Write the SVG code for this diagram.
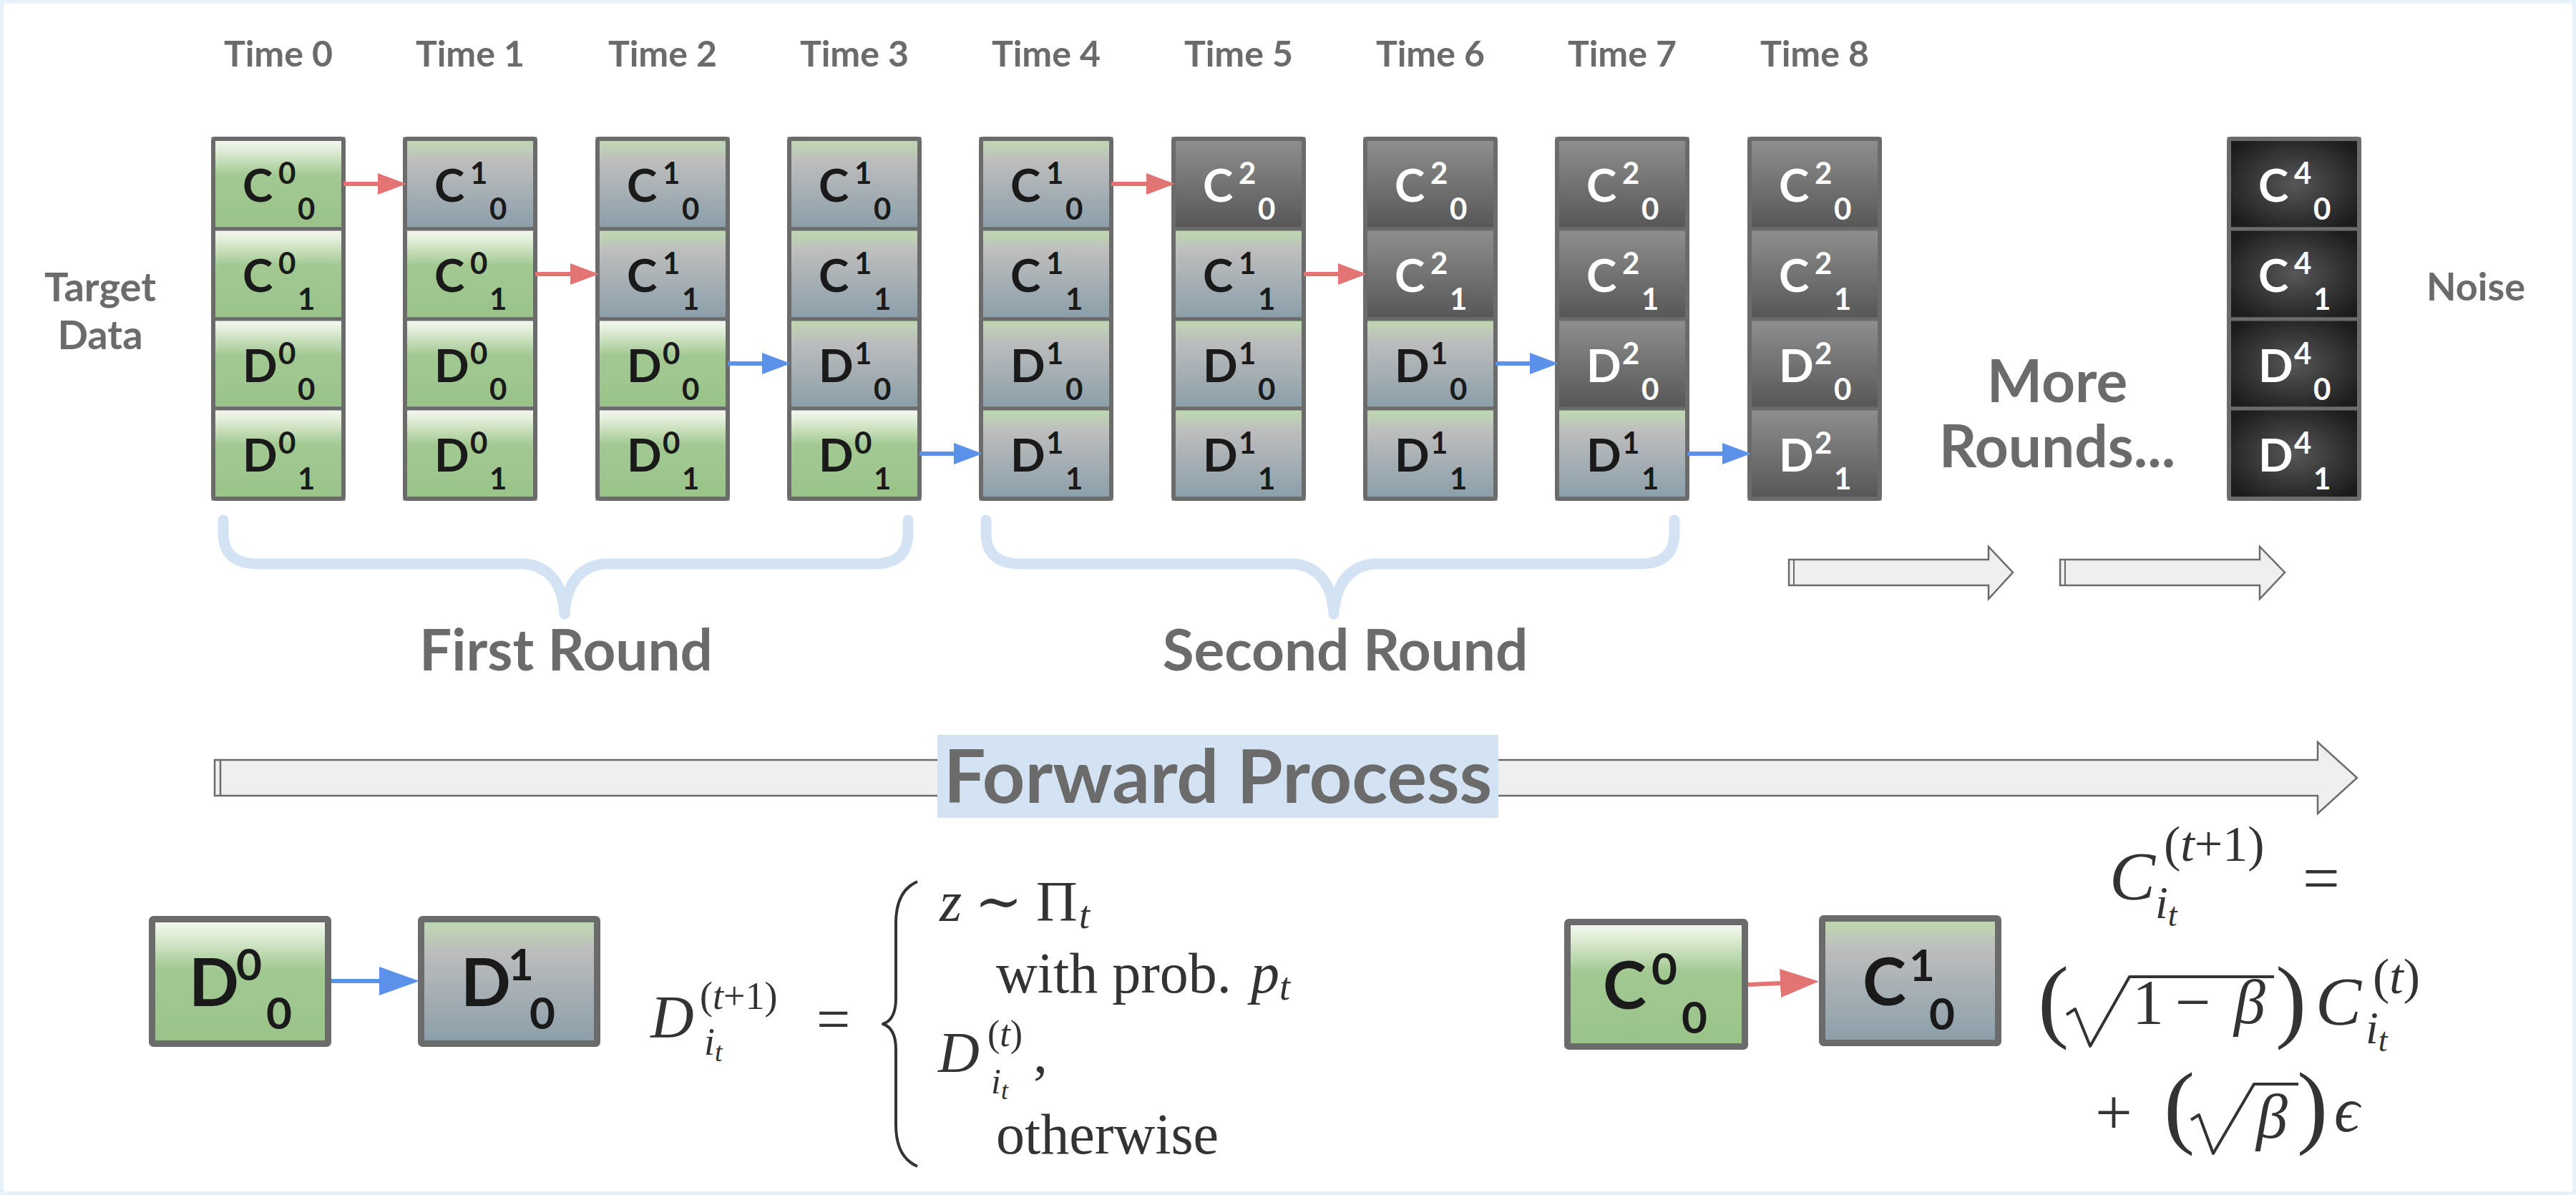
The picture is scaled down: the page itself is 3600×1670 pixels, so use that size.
<svg xmlns="http://www.w3.org/2000/svg" width="3600" height="1670" viewBox="0 0 3600 1670">
<style>
.lab{font-family:Lato,"Liberation Sans",sans-serif;font-weight:700;fill:#6b6b6b;text-anchor:middle}
.t{font-family:Lato,"Liberation Sans",sans-serif;font-weight:700;font-size:64px;fill:#1a1a1a}
.s{font-size:42px}
.big{font-size:92px}
.bs{font-size:62px}
.w{fill:#ffffff}
.cell{stroke:#6b6b6b;stroke-width:5}
.fr{fill:none;stroke:#6b6b6b;stroke-width:6}
.bx{stroke:#6b6b6b;stroke-width:9}
.g{fill:url(#gg)}.b{fill:url(#gb)}.k{fill:url(#gk)}.n{fill:url(#gn)}
.m{font-family:"Liberation Serif","DejaVu Serif",serif;fill:#333}
.i{font-style:italic}
.brace{fill:none;stroke:#d3e3f3;stroke-width:15;stroke-linecap:round;stroke-linejoin:round}
.blk{fill:#efefef;stroke:#6b6b6b;stroke-width:2.5}
.red{stroke:#e37474;stroke-width:6;fill:none}
.blue{stroke:#5b91e8;stroke-width:6;fill:none}
.mline{fill:none;stroke:#333;stroke-width:4;stroke-linejoin:round}
</style>
<defs>
<linearGradient id="gg" x1="0" y1="0" x2="0" y2="1">
<stop offset="0" stop-color="#f7f9f4"/><stop offset="0.12" stop-color="#e2eed9"/><stop offset="0.4" stop-color="#a3c993"/><stop offset="1" stop-color="#99c389"/>
</linearGradient>
<linearGradient id="gb" x1="0" y1="0" x2="0" y2="1">
<stop offset="0" stop-color="#bdd7b2"/><stop offset="0.08" stop-color="#bed2b4"/><stop offset="0.25" stop-color="#bdbdbd"/><stop offset="1" stop-color="#8a9ea9"/>
</linearGradient>
<linearGradient id="gk" x1="0" y1="0" x2="0" y2="1">
<stop offset="0" stop-color="#8f8f8f"/><stop offset="1" stop-color="#565656"/>
</linearGradient>
<radialGradient id="gn" cx="0.5" cy="0.5" r="0.6">
<stop offset="0" stop-color="#575757"/><stop offset="1" stop-color="#1c1c1c"/>
</radialGradient>
<marker id="ar" markerUnits="userSpaceOnUse" markerWidth="40" markerHeight="30" refX="0" refY="15" orient="auto"><path d="M0,0 L40,15 L0,30 z" fill="#e37474"/></marker>
<marker id="ab" markerUnits="userSpaceOnUse" markerWidth="40" markerHeight="30" refX="0" refY="15" orient="auto"><path d="M0,0 L40,15 L0,30 z" fill="#5b91e8"/></marker>
<marker id="arL" markerUnits="userSpaceOnUse" markerWidth="54" markerHeight="40" refX="0" refY="20" orient="auto"><path d="M0,0 L54,20 L0,40 z" fill="#e37474"/></marker>
<marker id="abL" markerUnits="userSpaceOnUse" markerWidth="56" markerHeight="40" refX="0" refY="20" orient="auto"><path d="M0,0 L56,20 L0,40 z" fill="#5b91e8"/></marker>
</defs>

<rect x="2.5" y="2.5" width="3595" height="1665" fill="#ffffff" stroke="#e6f2fa" stroke-width="5"/>

<g id="labels">
<text class="lab" font-size="50" x="389" y="93">Time 0</text>
<text class="lab" font-size="50" x="657" y="93">Time 1</text>
<text class="lab" font-size="50" x="926" y="93">Time 2</text>
<text class="lab" font-size="50" x="1194" y="93">Time 3</text>
<text class="lab" font-size="50" x="1462" y="93">Time 4</text>
<text class="lab" font-size="50" x="1731" y="93">Time 5</text>
<text class="lab" font-size="50" x="1999" y="93">Time 6</text>
<text class="lab" font-size="50" x="2267" y="93">Time 7</text>
<text class="lab" font-size="50" x="2536" y="93">Time 8</text>
<text class="lab" font-size="56" x="140" y="421">Target</text>
<text class="lab" font-size="56" x="140" y="488">Data</text>
<text class="lab" font-size="54" x="3460" y="420">Noise</text>
<text class="lab" font-size="82" x="2875" y="562">More</text>
<text class="lab" font-size="82" x="2875" y="653">Rounds...</text>
<text class="lab" font-size="80" x="791" y="937">First Round</text>
<text class="lab" font-size="80" x="1880" y="937">Second Round</text>
</g>

<g id="braces">
<path class="brace" d="M312,727 L312,745 Q312,788 360,788 L735,788 Q785,795 789,858 Q793,795 843,788 L1222,788 Q1269,788 1269,745 L1269,727"/>
<path class="brace" d="M1378,727 L1378,745 Q1378,788 1426,788 L1810,788 Q1860,795 1864,858 Q1868,795 1918,788 L2292,788 Q2340,788 2340,745 L2340,727"/>
</g>

<g id="block-arrows">
<path class="blk" d="M2500,782 L2779,782 L2779,764 L2813,800 L2779,837 L2779,818 L2500,818 Z"/>
<line x1="2507" y1="782" x2="2507" y2="818" stroke="#6b6b6b" stroke-width="2"/>
<path class="blk" d="M2879,782 L3158,782 L3158,764 L3193,800 L3158,837 L3158,818 L2879,818 Z"/>
<line x1="2886" y1="782" x2="2886" y2="818" stroke="#6b6b6b" stroke-width="2"/>
<path class="blk" stroke-width="3" d="M300,1062 L3239,1062 L3239,1037 L3294,1087 L3239,1137 L3239,1112 L300,1112 Z"/>
<line x1="308" y1="1062" x2="308" y2="1112" stroke="#6b6b6b" stroke-width="2.5"/>
<rect x="1310" y="1027" width="784" height="116" fill="#d3e3f3"/>
<text class="lab" font-size="104" x="1702" y="1122">Forward Process</text>
</g>

<g id="col0">
<rect class="cell g" x="298" y="194" width="182" height="126"/>
<rect class="cell g" x="298" y="320" width="182" height="126"/>
<rect class="cell g" x="298" y="446" width="182" height="125"/>
<rect class="cell g" x="298" y="571" width="182" height="126"/>
<rect class="fr" x="298" y="194" width="182" height="503" rx="3"/>
<text class="t" x="339" y="282">C<tspan class="s" x="389" y="257">0</tspan><tspan class="s" x="416" y="307">0</tspan></text>
<text class="t" x="339" y="408">C<tspan class="s" x="389" y="383">0</tspan><tspan class="s" x="416" y="433">1</tspan></text>
<text class="t" x="339" y="534">D<tspan class="s" x="389" y="509">0</tspan><tspan class="s" x="416" y="559">0</tspan></text>
<text class="t" x="339" y="659">D<tspan class="s" x="389" y="634">0</tspan><tspan class="s" x="416" y="684">1</tspan></text>
</g>

<g id="col1">
<rect class="cell b" x="566" y="194" width="182" height="126"/>
<rect class="cell g" x="566" y="320" width="182" height="126"/>
<rect class="cell g" x="566" y="446" width="182" height="125"/>
<rect class="cell g" x="566" y="571" width="182" height="126"/>
<rect class="fr" x="566" y="194" width="182" height="503" rx="3"/>
<text class="t" x="607" y="282">C<tspan class="s" x="657" y="257">1</tspan><tspan class="s" x="684" y="307">0</tspan></text>
<text class="t" x="607" y="408">C<tspan class="s" x="657" y="383">0</tspan><tspan class="s" x="684" y="433">1</tspan></text>
<text class="t" x="607" y="534">D<tspan class="s" x="657" y="509">0</tspan><tspan class="s" x="684" y="559">0</tspan></text>
<text class="t" x="607" y="659">D<tspan class="s" x="657" y="634">0</tspan><tspan class="s" x="684" y="684">1</tspan></text>
</g>

<g id="col2">
<rect class="cell b" x="835" y="194" width="182" height="126"/>
<rect class="cell b" x="835" y="320" width="182" height="126"/>
<rect class="cell g" x="835" y="446" width="182" height="125"/>
<rect class="cell g" x="835" y="571" width="182" height="126"/>
<rect class="fr" x="835" y="194" width="182" height="503" rx="3"/>
<text class="t" x="876" y="282">C<tspan class="s" x="926" y="257">1</tspan><tspan class="s" x="953" y="307">0</tspan></text>
<text class="t" x="876" y="408">C<tspan class="s" x="926" y="383">1</tspan><tspan class="s" x="953" y="433">1</tspan></text>
<text class="t" x="876" y="534">D<tspan class="s" x="926" y="509">0</tspan><tspan class="s" x="953" y="559">0</tspan></text>
<text class="t" x="876" y="659">D<tspan class="s" x="926" y="634">0</tspan><tspan class="s" x="953" y="684">1</tspan></text>
</g>

<g id="col3">
<rect class="cell b" x="1103" y="194" width="182" height="126"/>
<rect class="cell b" x="1103" y="320" width="182" height="126"/>
<rect class="cell b" x="1103" y="446" width="182" height="125"/>
<rect class="cell g" x="1103" y="571" width="182" height="126"/>
<rect class="fr" x="1103" y="194" width="182" height="503" rx="3"/>
<text class="t" x="1144" y="282">C<tspan class="s" x="1194" y="257">1</tspan><tspan class="s" x="1221" y="307">0</tspan></text>
<text class="t" x="1144" y="408">C<tspan class="s" x="1194" y="383">1</tspan><tspan class="s" x="1221" y="433">1</tspan></text>
<text class="t" x="1144" y="534">D<tspan class="s" x="1194" y="509">1</tspan><tspan class="s" x="1221" y="559">0</tspan></text>
<text class="t" x="1144" y="659">D<tspan class="s" x="1194" y="634">0</tspan><tspan class="s" x="1221" y="684">1</tspan></text>
</g>

<g id="col4">
<rect class="cell b" x="1371" y="194" width="182" height="126"/>
<rect class="cell b" x="1371" y="320" width="182" height="126"/>
<rect class="cell b" x="1371" y="446" width="182" height="125"/>
<rect class="cell b" x="1371" y="571" width="182" height="126"/>
<rect class="fr" x="1371" y="194" width="182" height="503" rx="3"/>
<text class="t" x="1412" y="282">C<tspan class="s" x="1462" y="257">1</tspan><tspan class="s" x="1489" y="307">0</tspan></text>
<text class="t" x="1412" y="408">C<tspan class="s" x="1462" y="383">1</tspan><tspan class="s" x="1489" y="433">1</tspan></text>
<text class="t" x="1412" y="534">D<tspan class="s" x="1462" y="509">1</tspan><tspan class="s" x="1489" y="559">0</tspan></text>
<text class="t" x="1412" y="659">D<tspan class="s" x="1462" y="634">1</tspan><tspan class="s" x="1489" y="684">1</tspan></text>
</g>

<g id="col5">
<rect class="cell k" x="1640" y="194" width="182" height="126"/>
<rect class="cell b" x="1640" y="320" width="182" height="126"/>
<rect class="cell b" x="1640" y="446" width="182" height="125"/>
<rect class="cell b" x="1640" y="571" width="182" height="126"/>
<rect class="fr" x="1640" y="194" width="182" height="503" rx="3"/>
<text class="t w" x="1681" y="282">C<tspan class="s" x="1731" y="257">2</tspan><tspan class="s" x="1758" y="307">0</tspan></text>
<text class="t" x="1681" y="408">C<tspan class="s" x="1731" y="383">1</tspan><tspan class="s" x="1758" y="433">1</tspan></text>
<text class="t" x="1681" y="534">D<tspan class="s" x="1731" y="509">1</tspan><tspan class="s" x="1758" y="559">0</tspan></text>
<text class="t" x="1681" y="659">D<tspan class="s" x="1731" y="634">1</tspan><tspan class="s" x="1758" y="684">1</tspan></text>
</g>

<g id="col6">
<rect class="cell k" x="1908" y="194" width="182" height="126"/>
<rect class="cell k" x="1908" y="320" width="182" height="126"/>
<rect class="cell b" x="1908" y="446" width="182" height="125"/>
<rect class="cell b" x="1908" y="571" width="182" height="126"/>
<rect class="fr" x="1908" y="194" width="182" height="503" rx="3"/>
<text class="t w" x="1949" y="282">C<tspan class="s" x="1999" y="257">2</tspan><tspan class="s" x="2026" y="307">0</tspan></text>
<text class="t w" x="1949" y="408">C<tspan class="s" x="1999" y="383">2</tspan><tspan class="s" x="2026" y="433">1</tspan></text>
<text class="t" x="1949" y="534">D<tspan class="s" x="1999" y="509">1</tspan><tspan class="s" x="2026" y="559">0</tspan></text>
<text class="t" x="1949" y="659">D<tspan class="s" x="1999" y="634">1</tspan><tspan class="s" x="2026" y="684">1</tspan></text>
</g>

<g id="col7">
<rect class="cell k" x="2176" y="194" width="182" height="126"/>
<rect class="cell k" x="2176" y="320" width="182" height="126"/>
<rect class="cell k" x="2176" y="446" width="182" height="125"/>
<rect class="cell b" x="2176" y="571" width="182" height="126"/>
<rect class="fr" x="2176" y="194" width="182" height="503" rx="3"/>
<text class="t w" x="2217" y="282">C<tspan class="s" x="2267" y="257">2</tspan><tspan class="s" x="2294" y="307">0</tspan></text>
<text class="t w" x="2217" y="408">C<tspan class="s" x="2267" y="383">2</tspan><tspan class="s" x="2294" y="433">1</tspan></text>
<text class="t w" x="2217" y="534">D<tspan class="s" x="2267" y="509">2</tspan><tspan class="s" x="2294" y="559">0</tspan></text>
<text class="t" x="2217" y="659">D<tspan class="s" x="2267" y="634">1</tspan><tspan class="s" x="2294" y="684">1</tspan></text>
</g>

<g id="col8">
<rect class="cell k" x="2445" y="194" width="182" height="126"/>
<rect class="cell k" x="2445" y="320" width="182" height="126"/>
<rect class="cell k" x="2445" y="446" width="182" height="125"/>
<rect class="cell k" x="2445" y="571" width="182" height="126"/>
<rect class="fr" x="2445" y="194" width="182" height="503" rx="3"/>
<text class="t w" x="2486" y="282">C<tspan class="s" x="2536" y="257">2</tspan><tspan class="s" x="2563" y="307">0</tspan></text>
<text class="t w" x="2486" y="408">C<tspan class="s" x="2536" y="383">2</tspan><tspan class="s" x="2563" y="433">1</tspan></text>
<text class="t w" x="2486" y="534">D<tspan class="s" x="2536" y="509">2</tspan><tspan class="s" x="2563" y="559">0</tspan></text>
<text class="t w" x="2486" y="659">D<tspan class="s" x="2536" y="634">2</tspan><tspan class="s" x="2563" y="684">1</tspan></text>
</g>

<g id="noise">
<rect class="cell n" x="3115" y="194" width="182" height="126"/>
<rect class="cell n" x="3115" y="320" width="182" height="126"/>
<rect class="cell n" x="3115" y="446" width="182" height="125"/>
<rect class="cell n" x="3115" y="571" width="182" height="126"/>
<rect class="fr" x="3115" y="194" width="182" height="503" rx="3"/>
<text class="t w" x="3156" y="282">C<tspan class="s" x="3206" y="257">4</tspan><tspan class="s" x="3233" y="307">0</tspan></text>
<text class="t w" x="3156" y="408">C<tspan class="s" x="3206" y="383">4</tspan><tspan class="s" x="3233" y="433">1</tspan></text>
<text class="t w" x="3156" y="534">D<tspan class="s" x="3206" y="509">4</tspan><tspan class="s" x="3233" y="559">0</tspan></text>
<text class="t w" x="3156" y="659">D<tspan class="s" x="3206" y="634">4</tspan><tspan class="s" x="3233" y="684">1</tspan></text>
</g>

<g id="exD0">
<rect class="bx g" x="212.5" y="1284.5" width="246" height="174" rx="2"/>
<text class="t big" x="264" y="1406">D<tspan class="bs" x="330" y="1370">0</tspan><tspan class="bs" x="372" y="1438">0</tspan></text>
</g>
<g id="exD1">
<rect class="bx b" x="588.5" y="1284.5" width="246" height="174" rx="2"/>
<text class="t big" x="644" y="1406">D<tspan class="bs" x="710" y="1370">1</tspan><tspan class="bs" x="740" y="1438">0</tspan></text>
</g>
<g id="exC0">
<rect class="bx g" x="2190.5" y="1288.5" width="248" height="174" rx="2"/>
<text class="t big" x="2240" y="1410">C<tspan class="bs" x="2308" y="1376">0</tspan><tspan class="bs" x="2350" y="1444">0</tspan></text>
</g>
<g id="exC1">
<rect class="bx b" x="2546.5" y="1283.5" width="246" height="174" rx="2"/>
<text class="t big" x="2603" y="1405">C<tspan class="bs" x="2668" y="1371">1</tspan><tspan class="bs" x="2696" y="1439">0</tspan></text>
</g>

<g id="connectors">
<line class="red" x1="480" y1="257" x2="528" y2="257" marker-end="url(#ar)"/>
<line class="red" x1="748" y1="383" x2="797" y2="383" marker-end="url(#ar)"/>
<line class="red" x1="1553" y1="257" x2="1602" y2="257" marker-end="url(#ar)"/>
<line class="red" x1="1822" y1="383" x2="1870" y2="383" marker-end="url(#ar)"/>
<line class="blue" x1="1017" y1="508" x2="1065" y2="508" marker-end="url(#ab)"/>
<line class="blue" x1="1285" y1="634" x2="1333" y2="634" marker-end="url(#ab)"/>
<line class="blue" x1="2090" y1="508" x2="2138" y2="508" marker-end="url(#ab)"/>
<line class="blue" x1="2358" y1="634" x2="2407" y2="634" marker-end="url(#ab)"/>
<line class="blue" stroke-width="8" x1="463" y1="1371" x2="530" y2="1371" marker-end="url(#abL)"/>
<line class="red" stroke-width="8" x1="2443" y1="1376" x2="2488" y2="1374" marker-end="url(#arL)"/>
</g>

<g id="formula-D">
<text class="m i" font-size="84" x="909" y="1450">D</text>
<text class="m" font-size="54" x="978" y="1410">(<tspan class="i">t</tspan>+1)</text>
<text class="m i" font-size="54" x="984" y="1474">i<tspan font-size="38" dy="9">t</tspan></text>
<text class="m" font-size="84" x="1141" y="1453">=</text>
<path class="mline" stroke-width="5" d="M1282,1232 Q1252,1245 1252,1290 L1252,1395 Q1252,1425 1234,1431 Q1252,1437 1252,1467 L1252,1572 Q1252,1617 1282,1630"/>
<text class="m" font-size="80" y="1287"><tspan class="i" x="1313">z</tspan><tspan x="1362">∼</tspan><tspan x="1448">Π</tspan><tspan class="i" font-size="54" x="1508" dy="10">t</tspan></text>
<text class="m" font-size="80" x="1392" y="1387">with prob.<tspan class="i" x="1748">p</tspan><tspan class="i" font-size="54" dy="10">t</tspan></text>
<text class="m i" font-size="80" x="1311" y="1498">D</text>
<text class="m" font-size="52" x="1380" y="1462">(<tspan class="i">t</tspan>)</text>
<text class="m i" font-size="50" x="1385" y="1528">i<tspan font-size="36" dy="8">t</tspan></text>
<text class="m" font-size="80" x="1444" y="1498">,</text>
<text class="m" font-size="80" x="1392" y="1612">otherwise</text>
</g>

<g id="formula-C">
<text class="m i" font-size="96" x="2948" y="1257">C</text>
<text class="m" font-size="70" x="3024" y="1203">(<tspan class="i">t</tspan>+1)</text>
<text class="m i" font-size="64" x="3012" y="1283">i<tspan font-size="46" dy="11">t</tspan></text>
<text class="m" font-size="92" x="3218" y="1258">=</text>
<text class="m" font-size="130" x="2848" y="1440">(</text>
<path class="mline" d="M2888,1418 L2900,1410 L2921,1462 L2976,1365 L3178,1365"/>
<text class="m" font-size="88" x="2980" y="1430">1</text>
<text class="m" font-size="88" x="3040" y="1430">−</text>
<text class="m i" font-size="88" x="3122" y="1430">β</text>
<text class="m" font-size="130" x="3180" y="1440">)</text>
<text class="m i" font-size="96" x="3236" y="1432">C</text>
<text class="m" font-size="70" x="3316" y="1388">(<tspan class="i">t</tspan>)</text>
<text class="m i" font-size="64" x="3306" y="1458">i<tspan font-size="46" dy="11">t</tspan></text>
<text class="m" font-size="92" x="2928" y="1585">+</text>
<text class="m" font-size="130" x="3024" y="1588">(</text>
<path class="mline" d="M3062,1565 L3073,1558 L3093,1612 L3150,1515 L3212,1515"/>
<text class="m i" font-size="88" x="3153" y="1590">β</text>
<text class="m" font-size="130" x="3210" y="1588">)</text>
<text class="m i" font-size="88" x="3262" y="1581">ϵ</text>
</g>
</svg>
